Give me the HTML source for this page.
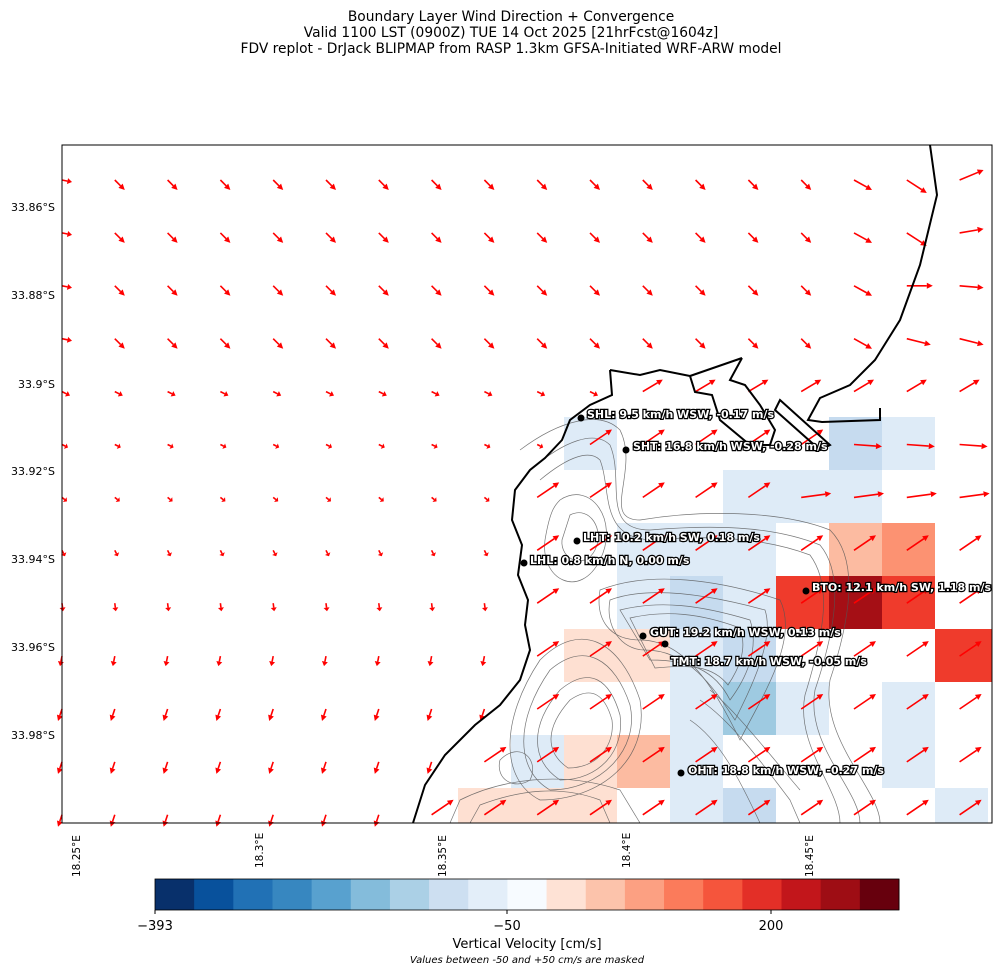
<!DOCTYPE html>
<html><head><meta charset="utf-8">
<style>
body{margin:0;background:#fff;width:1003px;height:974px;overflow:hidden;font-family:"Liberation Sans","DejaVu Sans",sans-serif;}
svg text{font-family:"DejaVu Sans","Liberation Sans",sans-serif;}
.lbl{font-size:11px;font-weight:bold;fill:#fff;stroke:#000;stroke-width:2.5px;paint-order:stroke;}
</style></head><body>
<svg id="s" width="1003" height="974" viewBox="0 0 1003 974" xmlns="http://www.w3.org/2000/svg">
<g font-size="13.8" text-anchor="middle" fill="#000">
<text x="511" y="21">Boundary Layer Wind Direction + Convergence</text>
<text x="511" y="37">Valid 1100 LST (0900Z) TUE 14 Oct 2025 [21hrFcst@1604z]</text>
<text x="511" y="53">FDV replot - DrJack BLIPMAP from RASP 1.3km GFSA-Initiated WRF-ARW model</text>
</g>
<g id="cells"></g>
<g fill="none" stroke="#555" stroke-width="0.7" opacity="0.8">
<path d="M560 500 C590 480 620 520 600 560 C580 600 540 580 545 540 C550 510 555 505 560 500Z"/>
<path d="M570 515 C590 505 605 530 595 550 C585 570 560 560 562 540Z"/>
<path d="M600 590 C650 570 720 580 780 600 C800 640 760 700 740 740 C720 700 690 640 640 640 C610 640 595 620 600 590Z"/>
<path d="M610 600 C650 585 710 595 765 610 C775 640 750 690 735 720 C715 690 690 650 645 650 C620 650 605 625 610 600Z"/>
<path d="M620 610 C660 600 700 605 750 620 C760 650 745 680 730 700 C715 670 690 660 650 660Z"/>
<path d="M630 618 C665 610 700 613 740 628 C748 650 738 670 728 685 C712 665 690 665 655 668Z"/>
<path d="M540 660 C580 620 620 640 640 700 C650 760 600 800 540 800 C500 780 500 720 540 660Z"/>
<path d="M550 670 C585 640 615 660 630 705 C640 750 600 790 550 790 C515 770 515 720 550 670Z"/>
<path d="M560 690 C590 665 610 680 620 715 C625 750 600 780 560 780 C530 760 530 725 560 690Z"/>
<path d="M570 700 C592 685 605 695 612 720 C615 745 598 768 568 768 C545 752 545 728 570 700Z"/>
<path d="M460 800 C500 780 560 770 620 790 L640 823 L450 823Z"/>
<path d="M480 805 C520 790 560 785 600 800 L610 823 L470 823Z"/>
<path d="M520 450 C560 420 600 410 620 430 C640 470 600 520 640 520 C700 510 780 510 830 530 C860 560 850 620 830 680 C820 740 880 790 880 823"/>
<path d="M530 470 C565 440 595 430 610 445 C625 480 600 530 650 530 C710 525 770 525 820 545 C845 575 835 630 815 690 C805 745 860 790 860 823"/>
<path d="M540 480 C570 455 590 450 600 460 C612 490 598 540 655 540 C710 535 765 538 810 555 C832 585 825 630 805 695 C795 745 840 790 840 823"/>
<path d="M700 700 C730 720 760 760 790 800 L800 823"/>
<path d="M690 720 C720 740 740 780 760 823"/>
<path d="M710 690 C735 710 770 755 800 790"/>
<path d="M500 760 C520 740 540 760 530 780 C515 790 495 780 500 760Z"/>
</g>
<g id="arrows"></g>
<g fill="none" stroke="#000" stroke-width="2">
<path d="M930 145 L937 195 L920 265 L900 320 L875 360 L850 385 L820 398 L808 420 L822 422 L880 420 L880 408"/>
<path d="M610 370 L612 395 L590 405 L570 420 L562 440 L545 458 L530 470 L515 490 L512 520 L522 545 L518 575 L528 600 L525 625 L530 650 L520 680 L500 705 L475 725 L445 755 L425 785 L413 823"/>
<path d="M610 370 L640 375 L660 370 L690 376 L695 392 L712 395 L720 420 L750 445 L770 445 L775 430 L760 405 L745 385 L730 380 L742 358"/>
<path d="M690 376 L742 358"/>
<path d="M780 400 L830 445 L820 450 L775 410Z"/>
</g>
<rect x="62" y="145" width="930" height="678" fill="none" stroke="#000" stroke-width="1"/>
<g fill="#000">
<circle cx="581" cy="418" r="3.5"/><circle cx="626" cy="450" r="3.5"/><circle cx="577" cy="541" r="3.5"/>
<circle cx="524" cy="563" r="3.5"/><circle cx="806" cy="591" r="3.5"/><circle cx="643" cy="636" r="3.5"/>
<circle cx="665" cy="644" r="3.5"/><circle cx="681" cy="773" r="3.5"/>
</g>
<g class="lbl">
<text x="587" y="418">SHL: 9.5 km/h WSW, -0.17 m/s</text>
<text x="633" y="450">SHT: 16.8 km/h WSW, -0.28 m/s</text>
<text x="583" y="541">LHT: 10.2 km/h SW, 0.18 m/s</text>
<text x="530" y="564">LHL: 0.8 km/h N, 0.00 m/s</text>
<text x="812" y="591">BTO: 12.1 km/h SW, 1.18 m/s</text>
<text x="650" y="636">GUT: 19.2 km/h WSW, 0.13 m/s</text>
<text x="671" y="665">TMT: 18.7 km/h WSW, -0.05 m/s</text>
<text x="688" y="774">OHT: 18.8 km/h WSW, -0.27 m/s</text>
</g>
<g font-size="11" text-anchor="end" fill="#000">
<text x="55" y="211">33.86°S</text><text x="55" y="299">33.88°S</text><text x="55" y="388">33.9°S</text>
<text x="55" y="475">33.92°S</text><text x="55" y="563">33.94°S</text><text x="55" y="651">33.96°S</text><text x="55" y="739">33.98°S</text>
</g>
<g font-size="10.5" fill="#000">
<text transform="translate(80,877) rotate(-90)">18.25°E</text>
<text transform="translate(263,868) rotate(-90)">18.3°E</text>
<text transform="translate(446,877) rotate(-90)">18.35°E</text>
<text transform="translate(630,868) rotate(-90)">18.4°E</text>
<text transform="translate(813,877) rotate(-90)">18.45°E</text>
</g>
<g id="cb"></g>
<rect x="155" y="879" width="744" height="31" fill="none" stroke="#000" stroke-width="0.8"/>
<g stroke="#000"><line x1="155" y1="910" x2="155" y2="914"/><line x1="507" y1="910" x2="507" y2="914"/><line x1="771" y1="910" x2="771" y2="914"/></g>
<g font-size="13" text-anchor="middle" fill="#000">
<text x="155" y="930">−393</text><text x="507" y="930">−50</text><text x="771" y="930">200</text>
<text x="527" y="948">Vertical Velocity [cm/s]</text>
</g>
<text x="527" y="963" font-size="10" font-style="italic" text-anchor="middle">Values between -50 and +50 cm/s are masked</text>
</svg>
<script>
var NS="http://www.w3.org/2000/svg";
function el(p,t,a){var e=document.createElementNS(NS,t);for(var k in a)e.setAttribute(k,a[k]);p.appendChild(e);return e;}
var cb=document.getElementById("cb");
var cols=["#08306b","#08519c","#2171b5","#3787c0","#58a1cf","#84bcdb","#abd0e6","#cddff1","#e3eef9","#f7fbff","#fee2d5","#fcc3ab","#fca082","#fb7b5b","#f5553c","#e32f27","#c2161b","#9e0d14","#67000d"];
for(var i=0;i<19;i++)el(cb,"rect",{x:155+i*744/19,y:879,width:744/19+0.5,height:31,fill:cols[i]});
var cg=document.getElementById("cells");
var L="#deebf7",M="#c6dbef",B="#9ecae1",R1="#fee0d2",R2="#fcbba1",R3="#fc9272",R4="#ef3b2c",R5="#a50f15";
var cells=[
[564,417,L],[829,417,M],[882,417,L],
[723,470,L],[776,470,L],[829,470,L],
[617,523,L],[670,523,L],[723,523,L],[829,523,R2],[882,523,R3],
[617,576,L],[670,576,M],[723,576,L],[776,576,R4],[829,576,R5],[882,576,R4],
[564,629,R1],[617,629,R1],[670,629,L],[723,629,M],[935,629,R4],[988,629,R4],
[670,682,L],[723,682,B],[776,682,L],[882,682,L],
[511,735,L],[564,735,R1],[617,735,R2],[670,735,L],[882,735,L],
[458,788,R1],[511,788,R1],[564,788,R1],[670,788,L],[723,788,M],[935,788,L]];
cells.forEach(function(c){var w=Math.min(53,992-c[0]),h=Math.min(53,823-c[1]);el(cg,"rect",{x:c[0],y:c[1],width:w,height:h,fill:c[2]});});
var ag=document.getElementById("arrows");
function land(x,y){var coastX= y<400?2000: (y<470? 560: y<620? 515: 420+ (823-y)*0.55);return x>coastX+5;}
for(var r=0;r<13;r++){for(var k=0;k<18;k++){
 var x=62+52.8*k, y=180+52.9*r, dx,dy;
 if(r<4){dx=10;dy=10-(k==0?8:0);
   if(k==15){dx=18;dy=10;}
   if(k==16){ if(r<2){dx=20;dy=13;} else if(r==2){dx=26;dy=0;} else {dx=24;dy=6;} }
   if(k==17){dx=24;dy=(r==0?-10:(r==1?-4:(r==2?2:6)));}
 }
 else if(r==4){dx=8;dy=4;}
 else if(r==5){dx=6;dy=3;}
 else if(r==6){dx=5;dy=4;}
 else if(r==7){dx=3;dy=6;}
 else if(r==8){dx=1;dy=8;}
 else if(r==9){dx=-2;dy=10;}
 else {dx=-4;dy=12;}
 if(land(x,y)&&r>=5){dx=22;dy=-15;}
 if(r==4&&k>=11){dx=20;dy=-12;}
 if(r==5&&k>=15){dx=28;dy=2;}
 if(r==6&&k>=14){dx=30;dy=-4;}
 if(y>823||x>992) continue;
 var x2=x+dx,y2=y+dy,len=Math.hypot(dx,dy),ux=dx/len,uy=dy/len;
 var hl=Math.min(6,len*0.45),hw=3;
 var bx=x2-ux*hl,by=y2-uy*hl;
 el(ag,"line",{x1:x,y1:y,x2:bx,y2:by,stroke:"#ff0000","stroke-width":1.6});
 el(ag,"polygon",{points:x2+","+y2+" "+(bx-uy*hw)+","+(by+ux*hw)+" "+(bx+uy*hw)+","+(by-ux*hw),fill:"#ff0000"});
}}
</script>
</body></html>
